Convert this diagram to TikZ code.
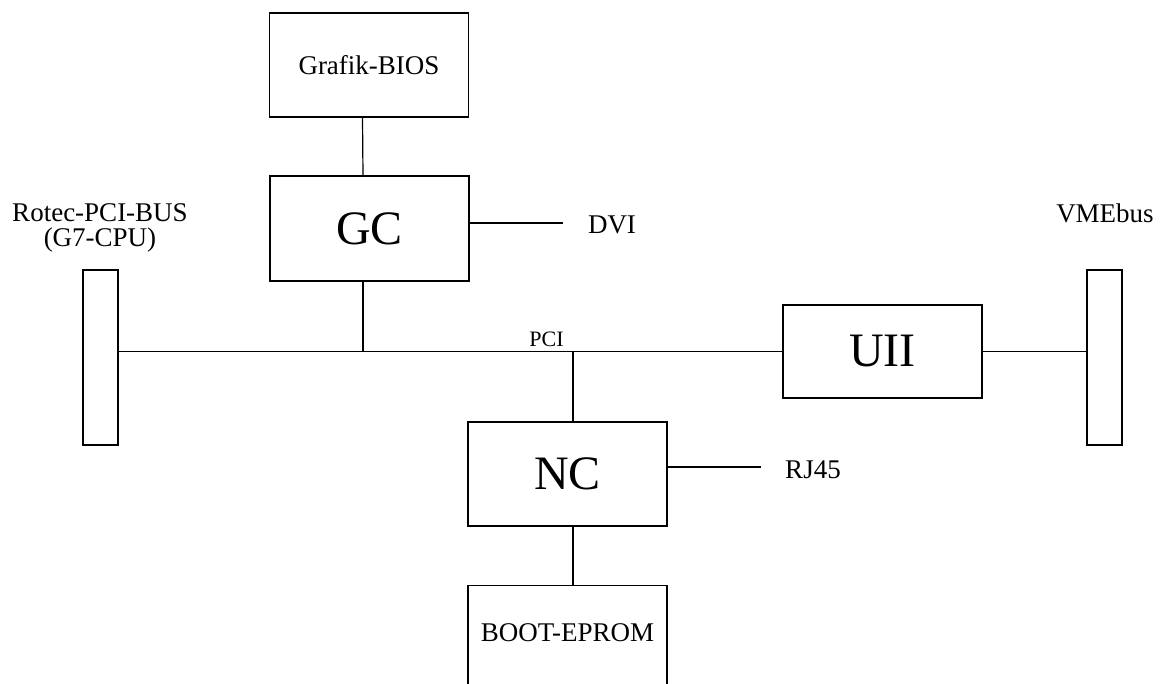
\documentclass[tikz,border=0pt]{standalone}
\usepackage{fontspec}
\setmainfont{Liberation Serif}
\begin{document}
\begin{tikzpicture}[x=0.5pt,y=-0.5pt,line width=0.6pt,
  box/.style={draw,minimum width=99.5pt,inner sep=0pt},
  bar/.style={draw,minimum width=17.5pt,minimum height=87.5pt,inner sep=0pt},
  big/.style={font=\fontsize{24}{28}\selectfont},
  txt/.style={font=\fontsize{13.5}{12.5}\selectfont,align=center,inner sep=0pt},
  small/.style={font=\fontsize{11}{13}\selectfont,inner sep=0pt}]
\useasboundingbox (0,0) rectangle (1164,684);
\clip (0,0) rectangle (1164,684);
\node[box,txt,minimum height=52pt] (bios) at (369,65) {Grafik-BIOS};
\node[box,big,minimum height=52.5pt] (gc) at (369.5,228.5) {GC};
\node[box,big,minimum height=46.5pt] (uii) at (882.5,351.5) {UII};
\node[box,big,minimum height=52pt] (nc) at (567.5,474) {NC};
\node[box,minimum height=100pt,anchor=north,
  label={[txt,anchor=center,yshift=-24pt]north:BOOT-EPROM}] (boot) at (567.5,585) {};
\node[bar] (cpu) at (100.5,357.5) {};
\node[bar] (vme) at (1104.5,357.5) {};
\node[txt] (cpulabel) at (100,228) {Rotec-PCI-BUS\\(G7-CPU)};
\node[txt] (vmelabel) at (1105,213.5) {VMEbus};
\node[txt] (dvi) at (612,225) {DVI};
\node[txt] (rj) at (813,470) {RJ45};
\node[small] (pci) at (546.5,339) {PCI};
\coordinate (dviend) at (563,223);
\coordinate (rjend) at (761,467);
\draw ([xshift=-3.25pt]bios.south) -- ([xshift=-3.25pt]gc.north);
\draw ([yshift=2.75pt]gc.east) -- (dviend);
\draw (cpu.east |- uii.west) -- (uii.west);
\draw (uii.east) -- (uii.east -| vme.west);
\draw ([xshift=-3.25pt]gc.south) -- ([xshift=-3.25pt]gc.south |- uii.west);
\draw ([xshift=2.75pt]nc.north) -- ([xshift=2.75pt]nc.north |- uii.west);
\draw ([yshift=3.5pt]nc.east) -- (rjend);
\draw ([xshift=2.75pt]nc.south) -- ([xshift=2.75pt]boot.north);
\end{tikzpicture}
\end{document}
